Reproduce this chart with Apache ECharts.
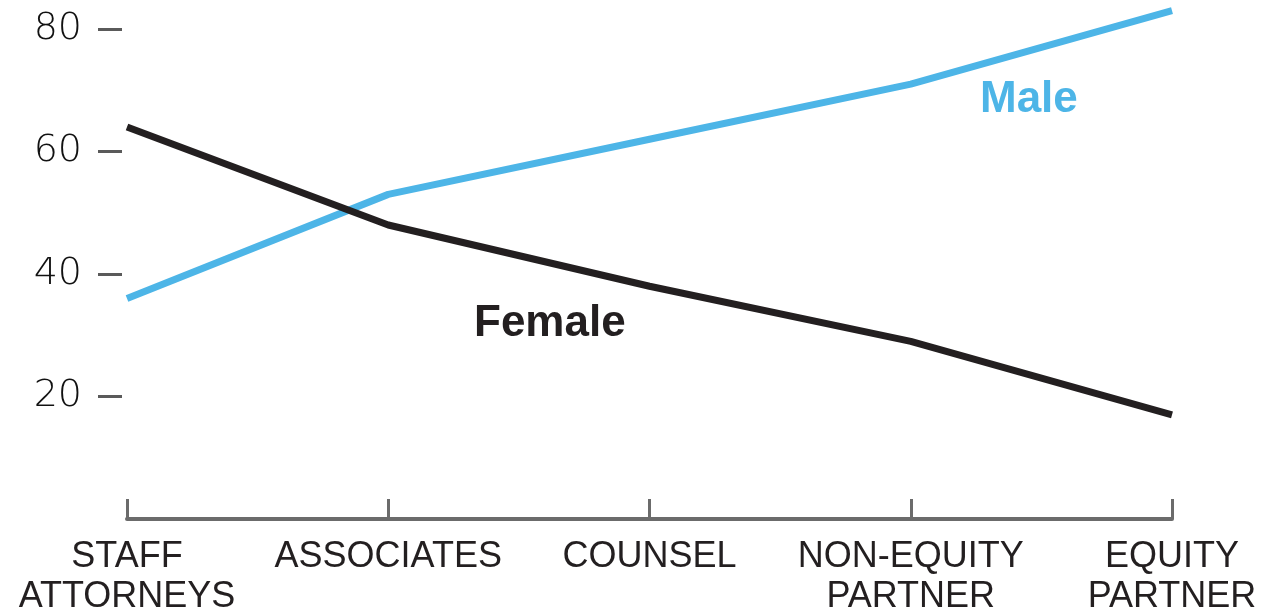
<!DOCTYPE html>
<html>
<head>
<meta charset="utf-8">
<title>Male and female share by role</title>
<script src="https://cdn.jsdelivr.net/npm/echarts@6/dist/echarts.min.js"></script>
<style>
  html, body { margin: 0; padding: 0; background: #ffffff; }
  #chart { width: 1268px; height: 613px; }
</style>
</head>
<body>
<div id="chart"></div>
<script>
// Roles along the career ladder
const categories = ['STAFF\nATTORNEYS', 'ASSOCIATES', 'COUNSEL', 'NON-EQUITY\nPARTNER', 'EQUITY\nPARTNER'];
// Percent of people in each role
const maleValues = [36, 53, 62, 71, 83];
const femaleValues = [64, 48, 38, 29, 17];
// Y axis tick marks and labels
const yTicks = [20, 40, 60, 80];

const BLUE = '#4db5e7';
const INK = '#231f20';

const chart = echarts.init(document.getElementById('chart'), null, { renderer: 'canvas' });

chart.setOption({
  backgroundColor: '#ffffff',
  animation: false,
  grid: { left: 127, right: 96, top: 29, bottom: 94, containLabel: false, outerBoundsMode: 'none' },
  xAxis: {
    type: 'category',
    data: categories,
    boundaryGap: false,
    axisLine: { show: true, lineStyle: { color: '#6b6b6b', width: 4 } },
    axisTick: { show: true, inside: true, length: 20, lineStyle: { color: '#6b6b6b', width: 3 } },
    axisLabel: {
      interval: 0,
      margin: 18,
      color: INK,
      fontFamily: 'Liberation Sans',
      fontSize: 36,
      lineHeight: 40
    },
    splitLine: { show: false }
  },
  yAxis: {
    type: 'value',
    min: 0,
    max: 80,
    interval: 20,
    offset: 5,
    axisLine: { show: false },
    axisTick: {
      show: true,
      length: 24,
      customValues: yTicks,
      lineStyle: { color: '#5a5a5a', width: 3 }
    },
    axisLabel: {
      customValues: yTicks,
      margin: 40,
      color: '#111111',
      fontFamily: 'DejaVu Sans',
      fontWeight: 200,
      fontSize: 38
    },
    splitLine: { show: false }
  },
  series: [
    {
      name: 'Male',
      type: 'line',
      data: maleValues,
      clip: false,
      symbol: 'none',
      lineStyle: { color: BLUE, width: 7 },
      z: 3
    },
    {
      name: 'Female',
      type: 'line',
      data: femaleValues,
      clip: false,
      symbol: 'none',
      lineStyle: { color: INK, width: 7 },
      z: 4
    }
  ],
  graphic: [
    {
      type: 'text',
      left: 980,
      top: 78,
      style: {
        text: 'Male',
        fill: BLUE,
        font: 'bold 44px "Liberation Sans", Arial, sans-serif'
      }
    },
    {
      type: 'text',
      left: 474,
      top: 302,
      style: {
        text: 'Female',
        fill: INK,
        font: 'bold 44px "Liberation Sans", Arial, sans-serif'
      }
    }
  ]
});
</script>
</body>
</html>
